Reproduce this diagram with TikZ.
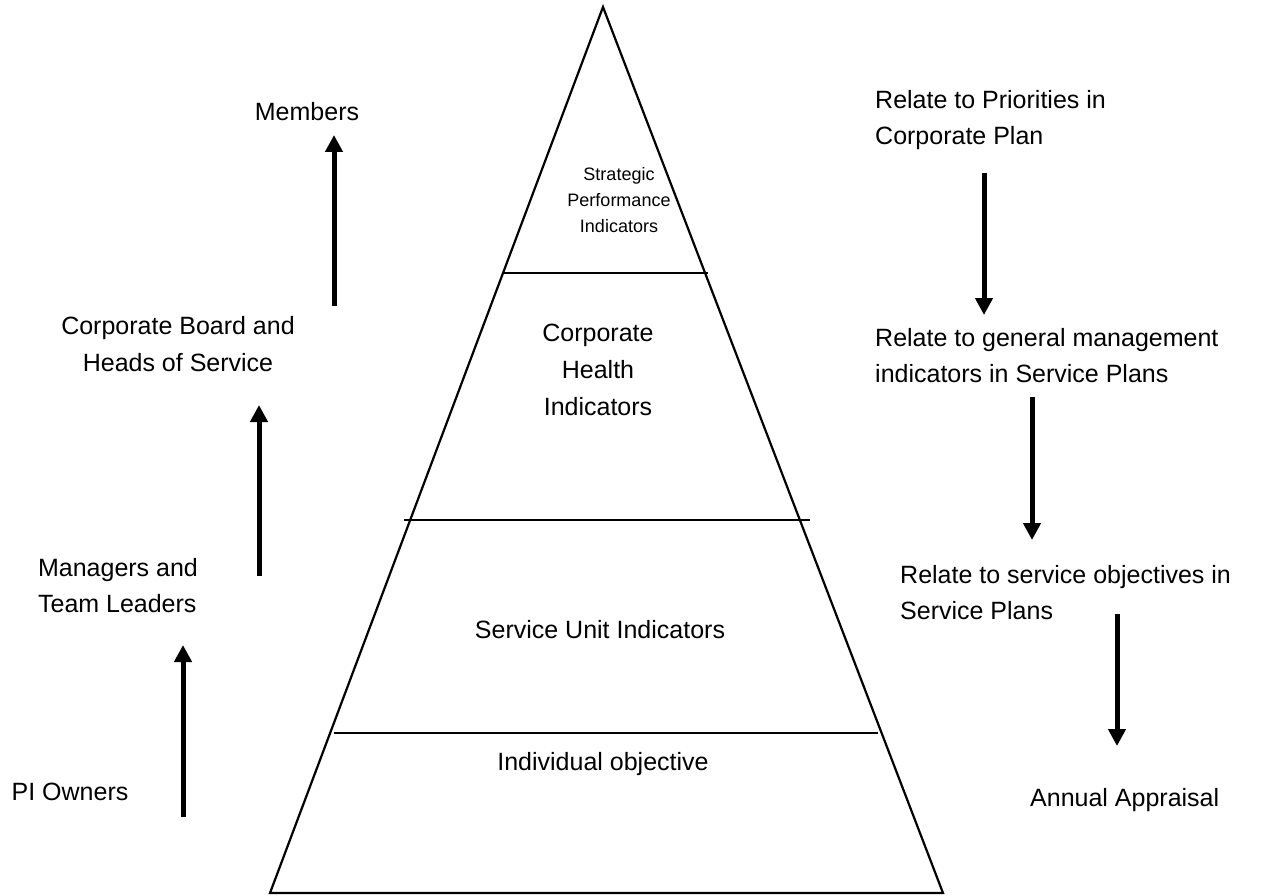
\documentclass[tikz,border=0pt]{standalone}
\usepackage{fontspec}
\setmainfont{Liberation Sans}
\usetikzlibrary{arrows.meta,calc}
\begin{document}
\begin{tikzpicture}[x=1pt,y=-1pt,
  lbl/.style={inner sep=0pt, align=center, font=\fontsize{25}{37}\selectfont},
  lbll/.style={inner sep=0pt, align=left, font=\fontsize{25}{36}\selectfont},
  small/.style={inner sep=0pt, align=center, font=\fontsize{18}{26}\selectfont},
  edge/.style={line width=2.2pt, line join=miter},
  tier/.style={line width=2pt},
  flow/.style={line width=5pt, -{Triangle[width=17pt,length=17pt]}, shorten >=-4pt}]
\useasboundingbox (0,0) rectangle (1264,896);

% pyramid outline
\coordinate (apex) at (603,7);
\coordinate (bl) at (270,893);
\coordinate (br) at (943,893);
\draw[edge] (apex) -- (br) -- (bl) -- cycle;

% tier dividers
\draw[tier] ($(apex)!0.300!(bl)$) -- ($($(apex)!0.300!(br)$)+(3,0)$);
\draw[tier] ($(apex)!0.579!(bl)+(-6,0)$) -- ($($(apex)!0.579!(br)$)+(10,0)$);
\draw[tier] ($(apex)!0.819!(bl)+(4,0)$) -- ($($(apex)!0.819!(br)$)+(-3,0)$);

% tier labels
\node[small] (spi) at (619,200) {Strategic\\Performance\\Indicators};
\node[lbl] (chi) at (598,370) {Corporate\\Health\\Indicators};
\node[lbl] (sui) at (600,630) {Service Unit Indicators};
\node[lbl] (ind) at (603,764) {Individual objective};

% left column
\node[lbl] (mem) at (307,112) {Members};
\node[lbl] (cbh) at (178,344) {Corporate Board and\\Heads of Service};
\node[lbll] (mtl) at (118,586) {Managers and\\Team Leaders};
\node[lbl] (pio) at (70,792) {PI Owners};

% right column
\node[lbll, anchor=west] (rp1) at (875,120) {Relate to Priorities in\\Corporate Plan};
\node[lbll, anchor=west] (rp2) at (875,356) {Relate to general management\\indicators in Service Plans};
\node[lbll, anchor=west] (rp3) at (900,593) {Relate to service objectives in\\Service Plans};
\node[lbl, anchor=west] (apr) at (1030,800) {Annual Appraisal};

% upward arrows
\coordinate (u1a) at (334,306); \coordinate (u1b) at (334,139);
\coordinate (u2a) at (259,576); \coordinate (u2b) at (259,409);
\coordinate (u3a) at (183,817); \coordinate (u3b) at (183,649);
\draw[flow] (u1a) -- (u1b);
\draw[flow] (u2a) -- (u2b);
\draw[flow] (u3a) -- (u3b);

% downward arrows
\coordinate (d1a) at (984,173); \coordinate (d1b) at (984,311);
\coordinate (d2a) at (1032,397); \coordinate (d2b) at (1032,536);
\coordinate (d3a) at (1117,614); \coordinate (d3b) at (1117,742);
\draw[flow] (d1a) -- (d1b);
\draw[flow] (d2a) -- (d2b);
\draw[flow] (d3a) -- (d3b);
\end{tikzpicture}
\end{document}
